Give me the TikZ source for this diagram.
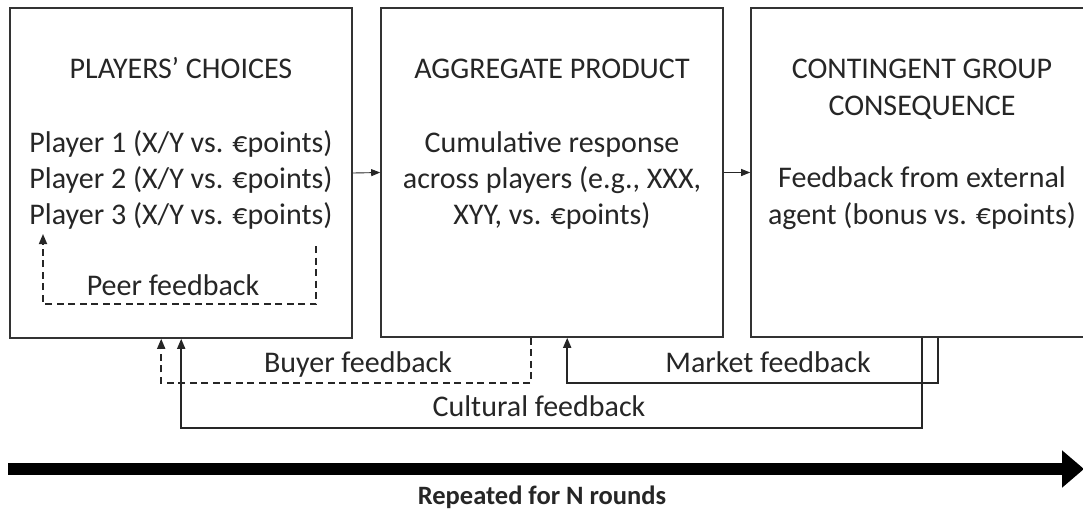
\documentclass[tikz,border=0pt]{standalone}
\usepackage{fontspec}
\setmainfont{Carlito}
\usetikzlibrary{arrows.meta}
\tikzset{
  box/.style={draw=black!80, line width=1.6pt, fill=white, inner sep=0pt},
  txt/.style={anchor=base, inner sep=0pt, text=black!85, font=\fontsize{30}{36}\selectfont},
  link/.style={draw=black!85, line width=1.7pt, -{Triangle[length=10pt,width=8pt]}},
  dlink/.style={link, dash pattern=on 7pt off 4.5pt},
  fwd/.style={draw=black!85, line width=0.9pt, -{Triangle[length=9pt,width=7pt]}},
}
\begin{document}
\begin{tikzpicture}[x=1pt,y=-1pt]
\useasboundingbox (0,0) rectangle (1083,512);
\clip (0,0) rectangle (1083,512);

% the three stages
\node[box, minimum width=342pt, minimum height=330pt] (b1) at (181,173) {};
\node[box, minimum width=342pt, minimum height=329pt] (b2) at (552,172.5) {};
\node[box, minimum width=342pt, minimum height=329pt] (b3) at (922,172.5) {};

% stage texts
\node[txt] (t1) at (181,78) {PLAYERS’ CHOICES};
\node[txt] (p1) at (181,152) {Player 1 (X/Y vs. €points)};
\node[txt] (p2) at (181,188) {Player 2 (X/Y vs. €points)};
\node[txt] (p3) at (181,224) {Player 3 (X/Y vs. €points)};

\node[txt] (t2) at (552,78) {AGGREGATE PRODUCT};
\node[txt] (a1) at (552,152) {Cumulative response};
\node[txt] (a2) at (552,188) {across players (e.g., XXX,};
\node[txt] (a3) at (552,224) {XYY, vs. €points)};

\node[txt] (t3a) at (922,78) {CONTINGENT GROUP};
\node[txt] (t3b) at (922,115) {CONSEQUENCE};
\node[txt] (c1) at (922,187) {Feedback from external};
\node[txt] (c2) at (922,224) {agent (bonus vs. €points)};

% forward flow
\draw[fwd] (b1.east) -- (b2.west);
\draw[fwd] (b2.east) -- (b3.west);

% peer feedback loop inside the first stage
\coordinate (peerS) at (316,246);
\coordinate (peerE) at (43,234);
\draw[dlink] (peerS) |- (43,304) -- (peerE);
\node[txt] (peer) at (173,295) {Peer feedback};

% feedback loops below the stages
\draw[dlink] ([xshift=151pt]b2.south west) -- ++(0,45) -| ([xshift=152pt]b1.south west);
\draw[link] ([xshift=188pt]b3.south west) -- ++(0,45) -| ([xshift=187pt]b2.south west);
\draw[link] ([xshift=172pt]b3.south west) -- ++(0,90) -| ([xshift=172pt]b1.south west);

\node[txt] (buyer) at (358,372) {Buyer feedback};
\node[txt] (market) at (768,372) {Market feedback};
\node[txt] (cult) at (539,416) {Cultural feedback};

% time axis
\coordinate (tA) at (8,469);
\coordinate (tB) at (1084,469);
\draw[line width=12pt, -{Triangle[length=22pt,width=36pt]}] (tA) -- (tB);
\node[txt, font=\bfseries\fontsize{26.5}{30}\selectfont] (rounds) at (542,504) {Repeated for N rounds};
\end{tikzpicture}
\end{document}
